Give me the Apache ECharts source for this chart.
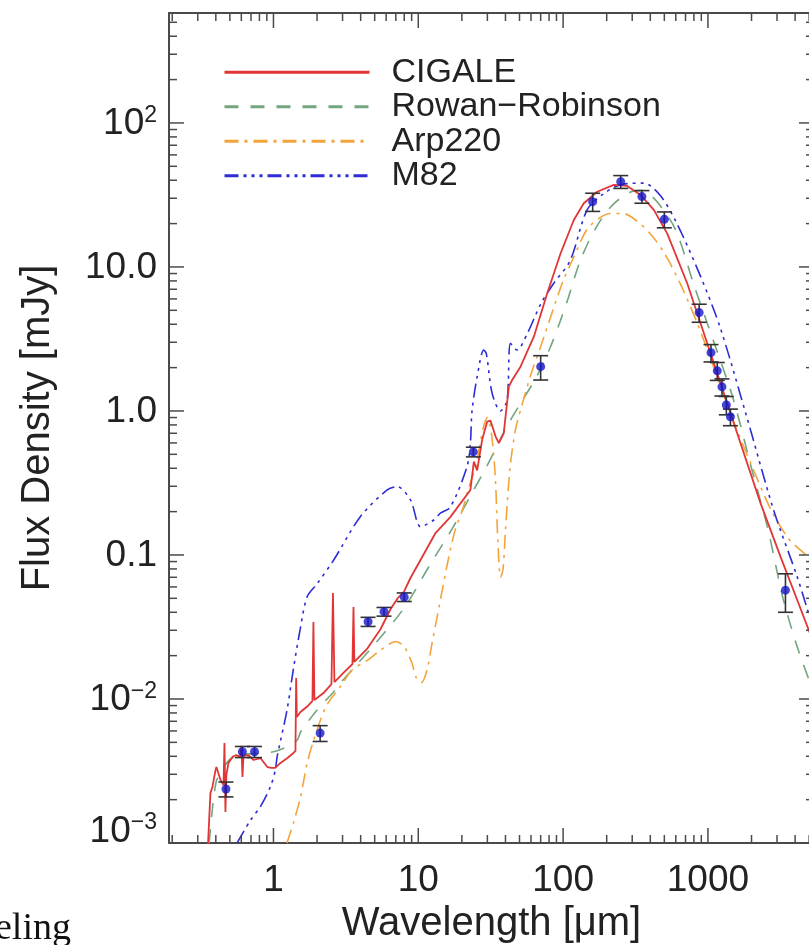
<!DOCTYPE html>
<html><head><meta charset="utf-8">
<script src="https://cdn.jsdelivr.net/npm/echarts@6/dist/echarts.min.js"></script>
<style>html,body{margin:0;padding:0;background:#fff}#c{width:809px;height:945px}</style>
</head><body><div id="c"></div>
<script>
// ---------- axis ranges & tick labels ----------
const X_MIN = 0.19, X_MAX = 5400, Y_MIN = 0.001, Y_MAX = 580;
const xLabelValues = [1, 10, 100, 1000];
const xLabelTexts = ['1', '10', '100', '1000'];
const yLabelValues = [0.001, 0.01, 0.1, 1, 10, 100];
const yLabelTexts = ['10^-3', '10^-2', '0.1', '1.0', '10.0', '10^2'];
const xDecades = [0.1, 1, 10, 100, 1000];
const yDecades = [0.001, 0.01, 0.1, 1, 10, 100];
const tickMultipliers = [2, 3, 4, 5, 6, 7, 8, 9];

// ---------- observed photometry ----------
const obsWave = [0.47, 0.61, 0.74, 2.1, 4.5, 5.8, 8.0, 24, 70, 160, 250, 350, 500, 870, 1050, 1160, 1250, 1340, 1430, 3430];
const obsFlux = [0.00237, 0.0043, 0.0043, 0.0058, 0.0344, 0.0404, 0.051, 0.52, 2.03, 28.4, 39.1, 30.8, 21.4, 4.82, 2.54, 1.90, 1.47, 1.10, 0.91, 0.057];
const obsErr  = [0.00028, 0.00038, 0.00038, 0.00073, 0.0025, 0.0028, 0.0035, 0.04, 0.39, 4.1, 4.0, 3.1, 2.7, 0.69, 0.35, 0.27, 0.2, 0.16, 0.12, 0.017];

// ---------- CIGALE ----------
const cigaleWave = [0.35, 0.367, 0.379, 0.398, 0.404, 0.431, 0.452, 0.459, 0.466, 0.473, 0.489, 0.521, 0.555, 0.592, 0.601, 0.611, 0.621, 0.672, 0.728, 0.813, 0.853, 0.909, 0.969, 1.03, 1.118, 1.249, 1.374, 1.419, 1.435, 1.45, 1.536, 1.717, 1.859, 1.888, 1.918, 2.215, 2.515, 2.575, 2.636, 3.04, 3.513, 3.57, 3.62, 4.46, 5.48, 6.43, 7.2, 8.0, 8.83, 10.36, 13.15, 16.68, 22.9, 24.2, 25.5, 27.6, 29.9, 31.5, 34.2, 36.0, 38.9, 42.2, 44.5, 50.8, 62.8, 77.7, 96.0, 118.5, 139, 172, 224, 277, 343, 423, 523, 719, 889, 1222, 1679, 2307, 3170, 4136, 5275];
const cigaleFlux = [0.0008, 0.00222, 0.00245, 0.00321, 0.00337, 0.00274, 0.00253, 0.00494, 0.00164, 0.00297, 0.0036, 0.00396, 0.00408, 0.00396, 0.00472, 0.00287, 0.00402, 0.00408, 0.00377, 0.00389, 0.00365, 0.00337, 0.00332, 0.00332, 0.0036, 0.00389, 0.00422, 0.00436, 0.014, 0.0075, 0.00812, 0.0089, 0.0097, 0.0343, 0.00984, 0.011, 0.0127, 0.0545, 0.0131, 0.0152, 0.0175, 0.0435, 0.0181, 0.0225, 0.0305, 0.042, 0.05, 0.056, 0.0692, 0.0923, 0.142, 0.184, 0.283, 0.445, 0.387, 0.63, 0.843, 0.857, 0.664, 0.597, 0.70, 1.475, 1.64, 2.03, 3.28, 6.56, 12.4, 21.2, 27.7, 33.3, 37.1, 36.5, 31.6, 24.9, 17.1, 7.71, 4.06, 1.556, 0.597, 0.229, 0.0973, 0.0487, 0.0257];

// ---------- Rowan-Robinson ----------
const rrWave = [0.36, 0.4, 0.45, 0.5, 0.6, 0.8, 1.0, 1.2, 1.46, 1.54, 2.0, 2.6, 2.9, 3.5, 5, 8, 12, 17, 24, 30, 40, 50, 65, 82, 105, 132, 170, 220, 290, 350, 450, 600, 800, 1100, 1500, 2000, 2600, 3300, 4200, 5400];
const rrFlux = [0.001, 0.0026, 0.0033, 0.0038, 0.0041, 0.0042, 0.0043, 0.0046, 0.0052, 0.0059, 0.0084, 0.0112, 0.0129, 0.016, 0.024, 0.043, 0.085, 0.15, 0.28, 0.42, 0.75, 1.1, 1.7, 2.8, 5.5, 11.2, 19, 27, 33, 34, 28, 18, 7.5, 3.0, 1.2, 0.4, 0.15, 0.05, 0.022, 0.011];

// ---------- Arp220 ----------
const arpWave = [1.24, 1.38, 1.54, 1.71, 1.9, 2.3, 2.9, 3.5, 4.5, 5.5, 7.0, 8.0, 9.0, 9.7, 10.5, 11.5, 12.5, 14, 16, 18, 20, 22.5, 25, 28, 30, 32, 34, 35.5, 37, 38.5, 40, 43, 47, 52, 60, 70, 82, 100, 118, 145, 180, 214, 260, 320, 400, 500, 650, 850, 1100, 1500, 2000, 2700, 3600, 4500, 5400];
const arpFlux = [0.001, 0.0014, 0.0021, 0.0036, 0.0052, 0.0088, 0.0122, 0.0159, 0.0187, 0.0219, 0.0251, 0.023, 0.018, 0.014, 0.013, 0.016, 0.025, 0.045, 0.09, 0.15, 0.2, 0.3, 0.42, 0.75, 0.9, 0.7, 0.35, 0.12, 0.07, 0.08, 0.15, 0.4, 0.75, 1.1, 1.8, 2.8, 4.5, 8, 11.6, 18, 22, 23.5, 23.5, 21, 17, 12.5, 7.5, 4.0, 2.0, 0.85, 0.42, 0.21, 0.13, 0.105, 0.09];

// ---------- M82 ----------
const m82Wave = [0.561, 0.694, 0.813, 0.953, 1.03, 1.06, 1.24, 1.38, 1.54, 1.71, 2.0, 2.6, 3.99, 6.10, 7.14, 8.83, 10.4, 12.8, 14.2, 16.7, 21.7, 22.9, 23.5, 25.5, 28.3, 29.5, 32.4, 36.9, 41, 43.3, 48, 56.6, 69.9, 86.2, 112, 146.5, 190, 249, 361, 469, 611, 889, 1222, 1853, 2842, 4136, 5040];
const m82Flux = [0.001, 0.00144, 0.00179, 0.00246, 0.00321, 0.00396, 0.00837, 0.0167, 0.0317, 0.0514, 0.063, 0.092, 0.185, 0.283, 0.298, 0.241, 0.157, 0.175, 0.195, 0.216, 0.41, 0.6, 1.0, 1.73, 2.65, 2.5, 1.32, 1.0, 1.18, 2.95, 2.65, 3.45, 5.5, 7.7, 11.1, 24.9, 32.2, 37.2, 38.2, 31.3, 20, 8.6, 3.73, 0.912, 0.205, 0.0705, 0.0371];

const legendNames = ['CIGALE', 'Rowan\u2212Robinson', 'Arp220', 'M82'];

// ---------- helpers ----------
const zip = (a, b) => a.map((v, i) => [v, b[i]]);
const FONT = 'Liberation Sans, Arial, sans-serif';
const AX = '#4a4a4a';

const tickData = [];
xDecades.forEach(d => tickMultipliers.concat([1]).forEach(m => {
  const v = d * m;
  if (v >= X_MIN && v <= X_MAX) tickData.push([v, Y_MIN, m === 1 ? 1 : 0]);
}));
yDecades.forEach(d => tickMultipliers.concat([1]).forEach(m => {
  const v = d * m;
  if (v >= Y_MIN && v <= Y_MAX) tickData.push([X_MIN, v, m === 1 ? 3 : 2]);
}));

function renderTick(params, api) {
  const kind = api.value(2);
  const len = (kind === 1 || kind === 3) ? 15 : 8;
  const st = { stroke: AX, lineWidth: 1.5 };
  if (kind < 2) {
    const v = api.value(0);
    const b = api.coord([v, Y_MIN]), t = api.coord([v, Y_MAX]);
    return { type: 'group', children: [
      { type: 'line', shape: { x1: b[0], y1: b[1], x2: b[0], y2: b[1] - len }, style: st },
      { type: 'line', shape: { x1: t[0], y1: t[1], x2: t[0], y2: t[1] + len }, style: st }
    ]};
  }
  const w = api.value(1);
  const l = api.coord([X_MIN, w]), r = api.coord([X_MAX, w]);
  return { type: 'group', children: [
    { type: 'line', shape: { x1: l[0], y1: l[1], x2: l[0] + len, y2: l[1] }, style: st },
    { type: 'line', shape: { x1: r[0], y1: r[1], x2: r[0] - len, y2: r[1] }, style: st }
  ]};
}

function renderErr(params, api) {
  const x = api.value(0);
  const a = api.coord([x, api.value(2)]), b = api.coord([x, api.value(3)]);
  const h = 7.5, st = { stroke: '#333', lineWidth: 1.6 };
  return { type: 'group', children: [
    { type: 'line', shape: { x1: a[0], y1: a[1], x2: b[0], y2: b[1] }, style: st },
    { type: 'line', shape: { x1: a[0] - h, y1: a[1], x2: a[0] + h, y2: a[1] }, style: st },
    { type: 'line', shape: { x1: b[0] - h, y1: b[1], x2: b[0] + h, y2: b[1] }, style: st }
  ]};
}

function yLabel(v) {
  let i = -1;
  yLabelValues.forEach((t, k) => { if (Math.abs(Math.log10(v) - Math.log10(t)) < 1e-6) i = k; });
  if (i < 0) return '';
  const s = yLabelTexts[i];
  if (s.indexOf('^') >= 0) {
    const parts = s.split('^');
    const exp = parts[1].replace('-', '\u2212');
    if (i === 0) return '{bl|' + parts[0] + '}{sl|' + exp + '}';
    return '{b|' + parts[0] + '}{s|' + exp + '}';
  }
  return '{b|' + s + '}';
}
function xLabel(v) {
  let i = -1;
  xLabelValues.forEach((t, k) => { if (Math.abs(Math.log10(v) - Math.log10(t)) < 1e-6) i = k; });
  return i < 0 ? '' : xLabelTexts[i];
}

const lineBase = { type: 'line', showSymbol: false, symbol: 'none', clip: true, z: 3, xAxisIndex: 0, yAxisIndex: 0 };

const option = {
  animation: false,
  backgroundColor: '#fff',
  grid: { left: 169, top: 13, width: 645, height: 830, containLabel: false, outerBoundsMode: 'none' },
  legend: {
    data: legendNames,
    orient: 'vertical', left: 223, top: 55, padding: 0,
    itemWidth: 145, itemHeight: 20, itemGap: 0,
    textStyle: { fontFamily: FONT, fontSize: 34, color: '#222', lineHeight: 34.5, padding: [0, 0, 0, 17] },
    lineStyle: { width: 3 },
    itemStyle: { color: 'rgba(0,0,0,0)', borderColor: 'rgba(0,0,0,0)', borderWidth: 0, opacity: 0 },
    selectedMode: false
  },
  xAxis: [
    { type: 'log', logBase: 10, min: X_MIN, max: X_MAX, position: 'bottom',
      axisLine: { show: true, lineStyle: { color: AX, width: 2 } }, axisTick: { show: false },
      splitLine: { show: false }, minorTick: { show: false },
      axisLabel: { formatter: xLabel, fontFamily: FONT, fontSize: 37, color: '#222', margin: 19, showMinLabel: false, showMaxLabel: false },
      name: 'Wavelength [\u03bcm]', nameLocation: 'middle', nameGap: 59,
      nameTextStyle: { fontFamily: FONT, fontSize: 40, color: '#222' } },
    { type: 'log', logBase: 10, min: X_MIN, max: X_MAX, position: 'top',
      axisLine: { show: true, lineStyle: { color: AX, width: 2 } }, axisTick: { show: false },
      axisLabel: { show: false }, splitLine: { show: false } }
  ],
  yAxis: [
    { type: 'log', logBase: 10, min: Y_MIN, max: Y_MAX, position: 'left',
      axisLine: { show: true, lineStyle: { color: AX, width: 2 } }, axisTick: { show: false },
      splitLine: { show: false },
      axisLabel: { formatter: yLabel, margin: 12, showMaxLabel: false,
        rich: {
          b: { fontFamily: FONT, fontSize: 37, color: '#222', lineHeight: 38, verticalAlign: 'bottom' },
          s: { fontFamily: FONT, fontSize: 23, color: '#222', lineHeight: 38, verticalAlign: 'top' },
          bl: { fontFamily: FONT, fontSize: 37, color: '#222', lineHeight: 64, verticalAlign: 'top', padding: [2, 0, 0, 0] },
          sl: { fontFamily: FONT, fontSize: 23, color: '#222', lineHeight: 64, verticalAlign: 'top' }
        } },
      name: 'Flux Density [mJy]', nameLocation: 'middle', nameGap: 111, nameRotate: 90,
      nameTextStyle: { fontFamily: FONT, fontSize: 40, color: '#222' } }
  ],
  graphic: [
    { type: 'text', left: -5, top: 910, style: { text: 'eling', fontFamily: 'Liberation Serif, Times New Roman, serif', fontSize: 38, fill: '#111' } }
  ],
  series: [
    Object.assign({}, lineBase, { name: legendNames[1], data: zip(rrWave, rrFlux), smooth: 0.3,
      lineStyle: { color: '#73a57f', width: 1.6, type: [14, 12] }, itemStyle: { color: '#73a57f' } }),
    Object.assign({}, lineBase, { name: legendNames[2], data: zip(arpWave, arpFlux), smooth: 0.3,
      lineStyle: { color: '#f3a43a', width: 1.6, type: [14, 6, 3, 6] }, itemStyle: { color: '#f3a43a' } }),
    Object.assign({}, lineBase, { name: legendNames[3], data: zip(m82Wave, m82Flux), smooth: 0.3,
      lineStyle: { color: '#2d2dd6', width: 1.6, type: [14, 5, 3, 5, 3, 5, 3, 5] }, itemStyle: { color: '#2d2dd6' } }),
    Object.assign({}, lineBase, { name: legendNames[0], data: zip(cigaleWave, cigaleFlux), smooth: false, z: 4,
      lineStyle: { color: '#e23636', width: 1.8, type: 'solid' }, itemStyle: { color: '#e23636' } }),
    { type: 'custom', name: 'ticks', data: tickData, renderItem: renderTick, encode: { x: 0, y: 1 }, z: 6, silent: true },
    { type: 'custom', name: 'errors', data: obsWave.map((w, i) => [w, obsFlux[i], obsFlux[i] - obsErr[i], obsFlux[i] + obsErr[i]]),
      renderItem: renderErr, encode: { x: 0, y: 1 }, z: 7, silent: true },
    { type: 'scatter', name: 'data', data: zip(obsWave, obsFlux), symbol: 'circle', symbolSize: 9, z: 8,
      itemStyle: { color: '#1616c8' } }
  ]
};
const chart = echarts.init(document.getElementById('c'), null, { renderer: 'canvas' });
chart.setOption(option);
</script></body></html>
